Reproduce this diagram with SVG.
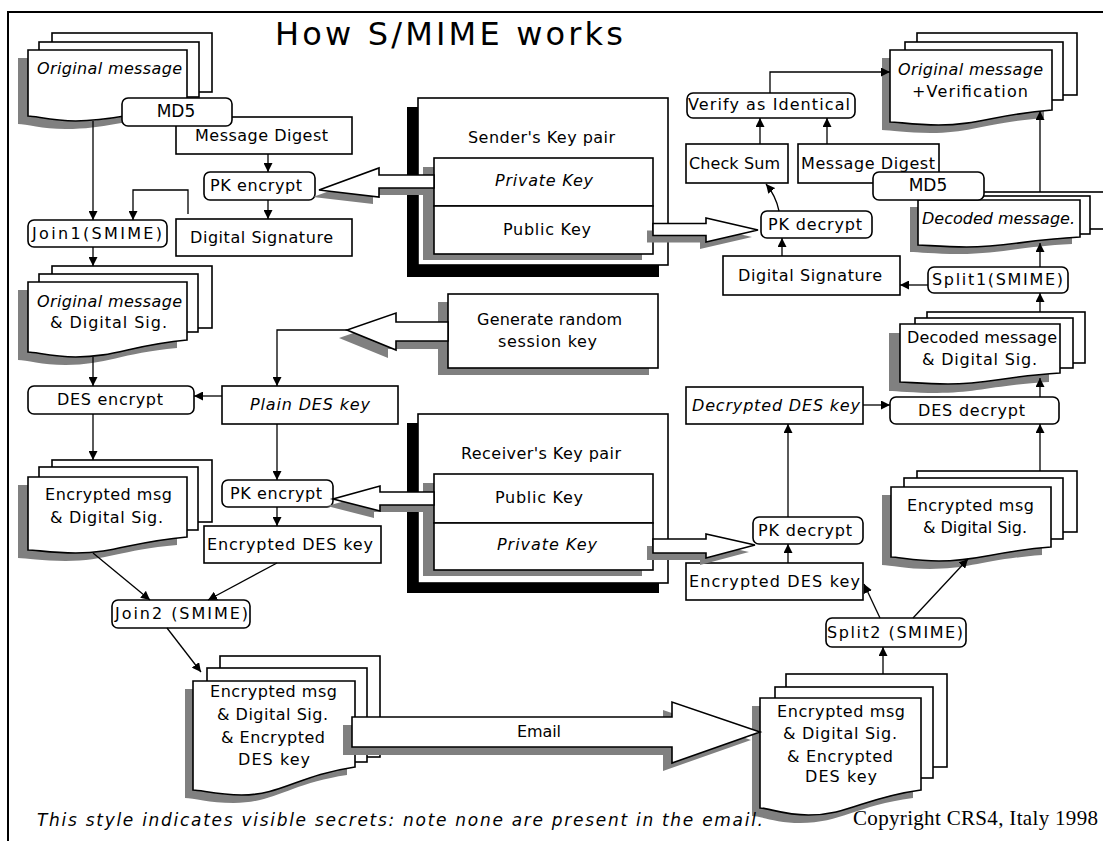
<svg xmlns="http://www.w3.org/2000/svg" width="1103" height="841" viewBox="0 0 1103 841">
<defs>
<style>
.ln{fill:none;stroke:#000;stroke-width:1.3}
.bx{fill:#fff;stroke:#000;stroke-width:1.6}
.sh{fill:#808080;stroke:none}
.bk{fill:#000;stroke:none}
.t{font-family:"DejaVu Sans","Liberation Sans",sans-serif;font-size:16px;fill:#000}
.i{font-style:italic}
.m{text-anchor:middle}
.ttl{font-family:"DejaVu Sans","Liberation Sans",sans-serif;font-size:32px;fill:#000}
</style>
<marker id="ah" viewBox="0 0 10 10" refX="10" refY="5" markerWidth="9" markerHeight="9" markerUnits="userSpaceOnUse" orient="auto"><path d="M0,0 L10,5 L0,10 z" fill="#000"/></marker>
</defs>
<rect width="1103" height="841" fill="#fff"/>
<path d="M8,841 V12 H1103" fill="none" stroke="#000" stroke-width="2"/>
<text class="ttl" x="275" y="45" textLength="348">How S/MIME works</text>

<!-- key pair boxes -->
<g id="senderKeyPair">
<rect class="bk" x="407" y="107" width="252" height="170"/>
<rect class="bx" x="418" y="98" width="250" height="167"/>
<rect class="sh" x="423" y="167" width="219" height="93"/>
<rect class="bx" x="434" y="158" width="219" height="48"/>
<rect class="bx" x="434" y="206" width="219" height="48"/>
<text class="t" x="468" y="143" textLength="147">Sender's Key pair</text>
<text class="t i" x="495" y="186" textLength="98">Private Key</text>
<text class="t" x="503" y="235" textLength="88">Public Key</text>
</g>
<g id="receiverKeyPair">
<rect class="bk" x="407" y="423" width="252" height="170"/>
<rect class="bx" x="418" y="414" width="250" height="169"/>
<rect class="sh" x="423" y="483" width="219" height="93"/>
<rect class="bx" x="434" y="474" width="219" height="49"/>
<rect class="bx" x="434" y="523" width="219" height="47"/>
<text class="t" x="461" y="459" textLength="160">Receiver's Key pair</text>
<text class="t" x="495" y="503" textLength="88">Public Key</text>
<text class="t i" x="497" y="550" textLength="100">Private Key</text>
</g>
<g id="generateKey">
<rect class="sh" x="438" y="302" width="211" height="73"/>
<rect class="bx" x="448" y="294" width="210" height="74"/>
<text class="t" x="477" y="325" textLength="145">Generate random</text>
<text class="t" x="498" y="347" textLength="99">session key</text>
</g>

<!-- left column -->
<g id="origMsg1">
<rect class="bx" x="52" y="33" width="160" height="59"/>
<rect class="bx" x="39" y="42" width="160" height="55"/>
<path class="sh" transform="translate(-10,8)" d="M28,50 H187 V108 C131.4,111.9 115.5,121 75.7,121 C51.9,121 36,116 28,116 Z"/>
<path class="bx" d="M28,50 H187 V108 C131.4,111.9 115.5,121 75.7,121 C51.9,121 36,116 28,116 Z"/>
<text class="t i" x="37" y="74" textLength="145">Original message</text>
</g>
<g id="msgDigestL">
<rect class="bx" x="176" y="117" width="176" height="37"/>
<text class="t" x="195" y="141" textLength="133">Message Digest</text>
</g>
<g id="md5L">
<rect class="bx" x="122" y="98" width="110" height="28" rx="6"/>
<text class="t m" x="176" y="117" style="font-size:17px">MD5</text>
</g>
<g id="pkEncrypt1">
<rect class="bx" x="204" y="172" width="111" height="28" rx="6"/>
<text class="t" x="210" y="191" textLength="92">PK encrypt</text>
</g>
<g id="digSigL">
<rect class="bx" x="176" y="219" width="176" height="37"/>
<text class="t" x="190" y="243" textLength="143">Digital Signature</text>
</g>
<g id="join1">
<rect class="bx" x="28" y="220" width="139" height="27" rx="6"/>
<text class="t" x="32" y="239" textLength="130">Join1(SMIME)</text>
</g>
<g id="origMsg2">
<rect class="bx" x="52" y="266" width="160" height="62"/>
<rect class="bx" x="39" y="274" width="159" height="58"/>
<path class="sh" transform="translate(-10,8)" d="M28,282 H187 V340 C131.4,345.1 115.5,357 75.7,357 C51.9,357 36,352 28,352 Z"/>
<path class="bx" d="M28,282 H187 V340 C131.4,345.1 115.5,357 75.7,357 C51.9,357 36,352 28,352 Z"/>
<text class="t i" x="37" y="307" textLength="145">Original message</text>
<text class="t" x="50" y="328" textLength="117">&amp; Digital Sig.</text>
</g>
<g id="desEncrypt">
<rect class="bx" x="28" y="386" width="166" height="28" rx="6"/>
<text class="t" x="57" y="405" textLength="106">DES encrypt</text>
</g>
<g id="plainDesKey">
<rect class="bx" x="222" y="386" width="176" height="38"/>
<text class="t i" x="250" y="410" textLength="120">Plain DES key</text>
</g>
<g id="encMsg1">
<rect class="bx" x="52" y="460" width="160" height="62"/>
<rect class="bx" x="39" y="467" width="159" height="63"/>
<path class="sh" transform="translate(-10,8)" d="M28,477 H187 V537 C131.4,541.8 115.5,553 75.7,553 C51.9,553 36,550 28,550 Z"/>
<path class="bx" d="M28,477 H187 V537 C131.4,541.8 115.5,553 75.7,553 C51.9,553 36,550 28,550 Z"/>
<text class="t" x="45" y="500" textLength="127">Encrypted msg</text>
<text class="t" x="50" y="523" textLength="113">&amp; Digital Sig.</text>
</g>
<g id="pkEncrypt2">
<rect class="bx" x="222" y="480" width="111" height="27" rx="6"/>
<text class="t" x="230" y="499" textLength="92">PK encrypt</text>
</g>
<g id="encDesKeyL">
<rect class="bx" x="204" y="526" width="177" height="37"/>
<text class="t" x="207" y="550" textLength="166">Encrypted DES key</text>
</g>
<g id="join2">
<rect class="bx" x="112" y="600" width="138" height="28" rx="6"/>
<text class="t" x="115" y="619" textLength="133">Join2 (SMIME)</text>
</g>
<g id="emailMsgL">
<rect class="bx" x="220" y="656" width="160" height="101"/>
<rect class="bx" x="207" y="668" width="160" height="94"/>
<path class="sh" transform="translate(-8,8)" d="M193,681 H355 V767 C298.3,775.4 282.1,795 241.6,795 C217.3,795 201.1,790 193,790 Z"/>
<path class="bx" d="M193,681 H355 V767 C298.3,775.4 282.1,795 241.6,795 C217.3,795 201.1,790 193,790 Z"/>
<text class="t" x="210" y="697" textLength="127">Encrypted msg</text>
<text class="t" x="217" y="720" textLength="111">&amp; Digital Sig.</text>
<text class="t" x="221" y="743" textLength="104">&amp; Encrypted</text>
<text class="t" x="238" y="765" textLength="72">DES key</text>
</g>

<!-- right column -->
<g id="origMsgVerif">
<rect class="bx" x="917" y="33" width="160" height="62"/>
<rect class="bx" x="905" y="42" width="158" height="58"/>
<path class="sh" transform="translate(-8,8)" d="M890,50 H1052 V110 C995.3,114.5 979.1,125 938.6,125 C914.3,125 898.1,122 890,122 Z"/>
<path class="bx" d="M890,50 H1052 V110 C995.3,114.5 979.1,125 938.6,125 C914.3,125 898.1,122 890,122 Z"/>
<text class="t i" x="898" y="75" textLength="145">Original message</text>
<text class="t" x="912" y="97" textLength="116">+Verification</text>
</g>
<g id="verify">
<rect class="bx" x="687" y="93" width="168" height="25" rx="6"/>
<text class="t" x="688" y="110" textLength="162">Verify as Identical</text>
</g>
<g id="checkSum">
<rect class="bx" x="686" y="144" width="102" height="39"/>
<text class="t" x="689" y="169" textLength="91">Check Sum</text>
</g>
<g id="msgDigestR">
<rect class="bx" x="798" y="144" width="141" height="39"/>
<text class="t" x="801" y="169" textLength="134">Message Digest</text>
</g>
<g id="decodedMsg">
<rect class="bx" x="942" y="192" width="173" height="37"/>
<rect class="bx" x="930" y="196" width="160" height="38"/>
<path class="sh" transform="translate(-8,7)" d="M918,200 H1080 V237 C1023.3,240 1007.1,247 966.6,247 C942.3,247 926.1,245 918,245 Z"/>
<path class="bx" d="M918,200 H1080 V237 C1023.3,240 1007.1,247 966.6,247 C942.3,247 926.1,245 918,245 Z"/>
<text class="t i" x="922" y="224" textLength="153">Decoded message.</text>
</g>
<g id="md5R">
<rect class="bx" x="873" y="172" width="111" height="28" rx="6"/>
<text class="t m" x="928" y="191" style="font-size:17px">MD5</text>
</g>
<g id="pkDecrypt1">
<rect class="bx" x="761" y="211" width="111" height="27" rx="6"/>
<text class="t" x="768" y="230" textLength="94">PK decrypt</text>
</g>
<g id="digSigR">
<rect class="bx" x="723" y="256" width="177" height="39"/>
<text class="t" x="738" y="281" textLength="144">Digital Signature</text>
</g>
<g id="split1">
<rect class="bx" x="928" y="267" width="140" height="26" rx="6"/>
<text class="t" x="932" y="285" textLength="131">Split1(SMIME)</text>
</g>
<g id="decodedSig">
<rect class="bx" x="927" y="312" width="158" height="51"/>
<rect class="bx" x="915" y="318" width="158" height="50"/>
<path class="sh" transform="translate(-11,9)" d="M900,324 H1060 V373 C1004,376.3 988,384 948,384 C924,384 908,382 900,382 Z"/>
<path class="bx" d="M900,324 H1060 V373 C1004,376.3 988,384 948,384 C924,384 908,382 900,382 Z"/>
<text class="t" x="907" y="343" textLength="150">Decoded message</text>
<text class="t" x="922" y="365" textLength="115">&amp; Digital Sig.</text>
</g>
<g id="desDecrypt">
<rect class="bx" x="890" y="397" width="169" height="27" rx="6"/>
<text class="t" x="918" y="416" textLength="107">DES decrypt</text>
</g>
<g id="decDesKey">
<rect class="bx" x="686" y="387" width="177" height="37"/>
<text class="t i" x="692" y="411" textLength="168">Decrypted DES key</text>
</g>
<g id="encMsgR">
<rect class="bx" x="917" y="471" width="160" height="61"/>
<rect class="bx" x="904" y="478" width="159" height="61"/>
<path class="sh" transform="translate(-9,8)" d="M891,487 H1051 V547 C995,551.2 979,561 939,561 C915,561 899,557 891,557 Z"/>
<path class="bx" d="M891,487 H1051 V547 C995,551.2 979,561 939,561 C915,561 899,557 891,557 Z"/>
<text class="t" x="907" y="511" textLength="127">Encrypted msg</text>
<text class="t" x="923" y="533" textLength="104">&amp; Digital Sig.</text>
</g>
<g id="pkDecrypt2">
<rect class="bx" x="753" y="517" width="110" height="27" rx="6"/>
<text class="t" x="758" y="536" textLength="94">PK decrypt</text>
</g>
<g id="encDesKeyR">
<rect class="bx" x="686" y="563" width="177" height="37"/>
<text class="t" x="689" y="587" textLength="171">Encrypted DES key</text>
</g>
<g id="split2">
<rect class="bx" x="826" y="618" width="140" height="29" rx="6"/>
<text class="t" x="827" y="638" textLength="136">Split2 (SMIME)</text>
</g>
<g id="emailMsgR">
<rect class="bx" x="786" y="674" width="161" height="93"/>
<rect class="bx" x="775" y="687" width="158" height="91"/>
<path class="sh" transform="translate(-8,8)" d="M760,698 H921 V790 C864.7,797.5 848.6,815 808.3,815 C784.2,815 768,808 760,808 Z"/>
<path class="bx" d="M760,698 H921 V790 C864.7,797.5 848.6,815 808.3,815 C784.2,815 768,808 760,808 Z"/>
<text class="t" x="777" y="717" textLength="128">Encrypted msg</text>
<text class="t" x="783" y="739" textLength="114">&amp; Digital Sig.</text>
<text class="t" x="787" y="762" textLength="106">&amp; Encrypted</text>
<text class="t" x="805" y="782" textLength="72">DES key</text>
</g>

<g id="connectors">
<!-- hollow arrows -->
<polygon class="sh" transform="translate(-6,7)" points="434,175 379,175 379,168 319,190 379,197 379,188 434,188"/>
<polygon class="bx" points="434,175 379,175 379,168 319,190 379,197 379,188 434,188"/>
<polygon class="sh" transform="translate(-6,7)" points="653,223.5 706,223.5 706,218 758,230 706,242 706,235.5 653,235.5"/>
<polygon class="bx" points="653,223.5 706,223.5 706,218 758,230 706,242 706,235.5 653,235.5"/>
<polygon class="sh" transform="translate(-8,8)" points="448,322 396,322 396,313 347,330 396,350 396,341 448,341"/>
<polygon class="bx" points="448,322 396,322 396,313 347,330 396,350 396,341 448,341"/>
<polygon class="sh" transform="translate(-6,7)" points="434,492 380,492 380,486 333,499 380,511 380,505 434,505"/>
<polygon class="bx" points="434,492 380,492 380,486 333,499 380,511 380,505 434,505"/>
<polygon class="sh" transform="translate(-6,7)" points="653,539 706,539 706,534 755,545 706,558 706,553 653,553"/>
<polygon class="bx" points="653,539 706,539 706,534 755,545 706,558 706,553 653,553"/>
<polygon class="sh" transform="translate(-9,8)" points="352,717 672,717 672,702 760,732 672,763 672,747 352,747"/>
<polygon class="bx" points="352,717 672,717 672,702 760,732 672,763 672,747 352,747"/>
<text class="t" x="517" y="737" textLength="44">Email</text>
<!-- thin connectors -->
<path class="ln" marker-end="url(#ah)" d="M93,121 V220"/>
<path class="ln" marker-end="url(#ah)" d="M188,214 V190 H133 V220"/>
<path class="ln" marker-end="url(#ah)" d="M268,154 V172"/>
<path class="ln" marker-end="url(#ah)" d="M268,200 V219"/>
<path class="ln" marker-end="url(#ah)" d="M93,247 V266"/>
<path class="ln" marker-end="url(#ah)" d="M93,357 V386"/>
<path class="ln" marker-end="url(#ah)" d="M222,396 H194"/>
<path class="ln" marker-end="url(#ah)" d="M347,330 H277 V386"/>
<path class="ln" marker-end="url(#ah)" d="M277,424 V480"/>
<path class="ln" marker-end="url(#ah)" d="M93,414 V460"/>
<path class="ln" marker-end="url(#ah)" d="M277,507 V526"/>
<path class="ln" marker-end="url(#ah)" d="M93,553 L150,600"/>
<path class="ln" marker-end="url(#ah)" d="M277,563 L208,600"/>
<path class="ln" marker-end="url(#ah)" d="M167,628 L201,672"/>
<path class="ln" marker-end="url(#ah)" d="M770,93 V72 H890"/>
<path class="ln" marker-end="url(#ah)" d="M760,144 V118"/>
<path class="ln" marker-end="url(#ah)" d="M827,144 V118"/>
<path class="ln" marker-end="url(#ah)" d="M779,211 Q776,196 766,184"/>
<path class="ln" marker-end="url(#ah)" d="M782,256 V238"/>
<path class="ln" marker-end="url(#ah)" d="M928,285 H900"/>
<path class="ln" marker-end="url(#ah)" d="M1040,267 V243"/>
<path class="ln" marker-end="url(#ah)" d="M1040,192 V111"/>
<path class="ln" marker-end="url(#ah)" d="M1040,312 V293"/>
<path class="ln" marker-end="url(#ah)" d="M1040,397 V378"/>
<path class="ln" marker-end="url(#ah)" d="M863,405 H890"/>
<path class="ln" marker-end="url(#ah)" d="M1040,471 V424"/>
<path class="ln" marker-end="url(#ah)" d="M788,517 V424"/>
<path class="ln" marker-end="url(#ah)" d="M788,563 V544"/>
<path class="ln" marker-end="url(#ah)" d="M880,618 L864,584"/>
<path class="ln" marker-end="url(#ah)" d="M913,618 L968,559"/>
<path class="ln" marker-end="url(#ah)" d="M883,674 V647"/>
</g>

<text class="t i" x="37" y="826" style="font-size:17px" textLength="726">This style indicates visible secrets: note none are present in the email.</text>
<text x="853" y="825" style="font-family:'Liberation Serif',serif;font-size:21px" textLength="245">Copyright CRS4, Italy 1998</text>
</svg>
